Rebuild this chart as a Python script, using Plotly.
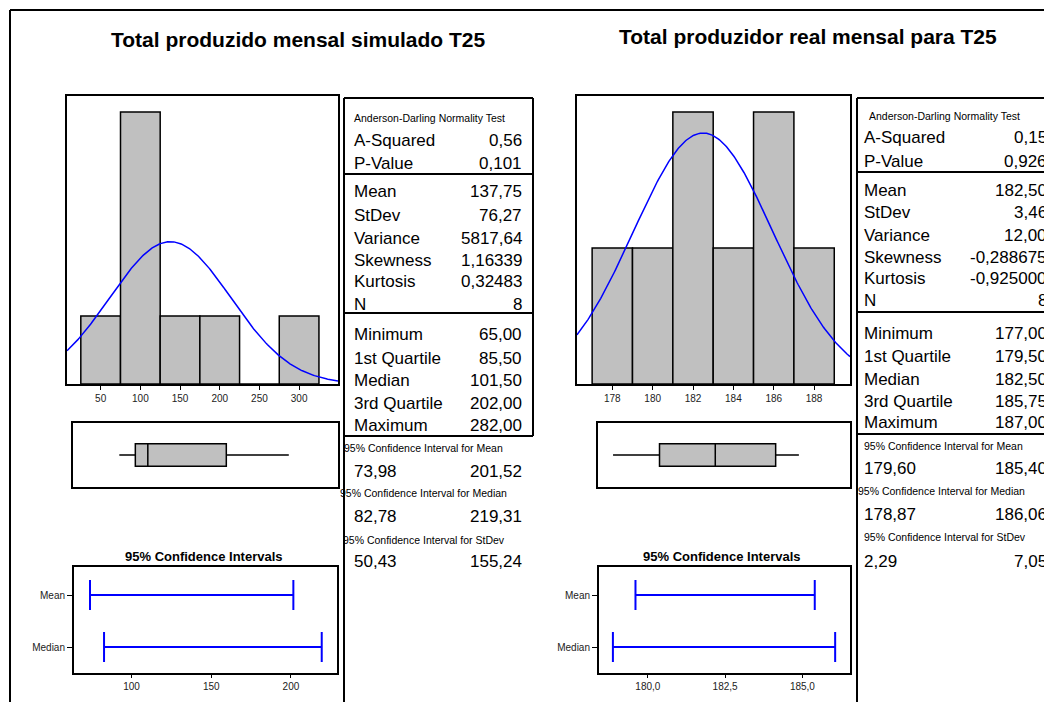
import numpy as np
import plotly.graph_objects as go

W, H = 1044, 702

# ---------------- data: simulated (left) ----------------
sim_title = "Total produzido mensal simulado T25"
sim_bin_centers = [50, 100, 150, 200, 250, 300]
sim_counts = [1, 4, 1, 1, 0, 1]
sim_bin_width = 50
sim_mean = 137.75
sim_sd = 76.27
sim_n = 8
sim_five = [65.00, 85.50, 101.50, 202.00, 282.00]  # min, q1, median, q3, max
sim_ci_mean = [73.98, 201.52]
sim_ci_median = [82.78, 219.31]
sim_ci_stdev = [50.43, 155.24]
sim_hist_ticks = [50, 100, 150, 200, 250, 300]
sim_ci_ticks = [100, 150, 200]
sim_ci_ticktext = ["100", "150", "200"]
sim_ad_labels = ["A-Squared", "P-Value"]
sim_ad_values = ["0,56", "0,101"]
sim_mom_labels = ["Mean", "StDev", "Variance", "Skewness", "Kurtosis", "N"]
sim_mom_values = ["137,75", "76,27", "5817,64", "1,16339", "0,32483", "8"]
sim_q_labels = ["Minimum", "1st Quartile", "Median", "3rd Quartile", "Maximum"]
sim_q_values = ["65,00", "85,50", "101,50", "202,00", "282,00"]
sim_ci_texts = [["73,98", "201,52"], ["82,78", "219,31"], ["50,43", "155,24"]]

# ---------------- data: real (right) ----------------
real_title = "Total produzidor real mensal para T25"
real_bin_centers = [178, 180, 182, 184, 186, 188]
real_counts = [1, 1, 2, 1, 2, 1]
real_bin_width = 2
real_mean = 182.50
real_sd = 3.46
real_n = 8
real_five = [177.00, 179.50, 182.50, 185.75, 187.00]
real_ci_mean = [179.60, 185.40]
real_ci_median = [178.87, 186.06]
real_ci_stdev = [2.29, 7.05]
real_hist_ticks = [178, 180, 182, 184, 186, 188]
real_ci_ticks = [180.0, 182.5, 185.0]
real_ci_ticktext = ["180,0", "182,5", "185,0"]
real_ad_labels = ["A-Squared", "P-Value"]
real_ad_values = ["0,15", "0,926"]
real_mom_labels = ["Mean", "StDev", "Variance", "Skewness", "Kurtosis", "N"]
real_mom_values = ["182,50", "3,46", "12,00", "-0,288675", "-0,925000", "8"]
real_q_labels = ["Minimum", "1st Quartile", "Median", "3rd Quartile", "Maximum"]
real_q_values = ["177,00", "179,50", "182,50", "185,75", "187,00"]
real_ci_texts = [["179,60", "185,40"], ["178,87", "186,06"], ["2,29", "7,05"]]

ci_headers_mean = "95% Confidence Interval for Mean"
ci_headers_median = "95% Confidence Interval for Median"
ci_headers_stdev = "95% Confidence Interval for StDev"
ad_header = "Anderson-Darling Normality Test"

FONT = "Liberation Sans, Arial, sans-serif"
GRAY = "#c0c0c0"


def fx(px):
    return px / W


def fy(py):
    return 1 - py / H


fig = go.Figure()

panels = [
    dict(
        hist_box=(67, 338, 96, 384), hist_xr=[7.6, 349], hist_yr=[0, 4.235],
        box_box=(73, 338, 423, 487), box_xr=[5.7, 345],
        ci_box=(74, 336.7, 567, 673), ci_xr=[63.94, 228.7],
        centers=sim_bin_centers, counts=sim_counts, bw=sim_bin_width,
        mean=sim_mean, sd=sim_sd, n=sim_n, five=sim_five,
        ci_mean=sim_ci_mean, ci_median=sim_ci_median,
        hticks=sim_hist_ticks, cticks=sim_ci_ticks, cticktext=sim_ci_ticktext,
    ),
    dict(
        hist_box=(577, 850, 96, 384), hist_xr=[176.25, 189.78], hist_yr=[0, 2.117],
        box_box=(598, 850, 423, 487), box_xr=[176.19, 189.75],
        ci_box=(599, 850, 567, 673), ci_xr=[178.42, 186.54],
        centers=real_bin_centers, counts=real_counts, bw=real_bin_width,
        mean=real_mean, sd=real_sd, n=real_n, five=real_five,
        ci_mean=real_ci_mean, ci_median=real_ci_median,
        hticks=real_hist_ticks, cticks=real_ci_ticks, cticktext=real_ci_ticktext,
    ),
]

axis_common = dict(showgrid=False, zeroline=False, showline=True, mirror=True,
                   linecolor="black", linewidth=2)
tickfont = dict(family=FONT, size=10, color="#222")
layout_axes = {}

for i, p in enumerate(panels):
    base = i * 3
    ids = [base + 1, base + 2, base + 3]
    names = ["" if k == 1 else str(k) for k in ids]

    # histogram
    x0, x1, y0, y1 = p["hist_box"]
    xa, ya = "x" + names[0], "y" + names[0]
    fig.add_trace(go.Bar(x=p["centers"], y=p["counts"], width=p["bw"],
                         marker=dict(color=GRAY, line=dict(color="black", width=1.5)),
                         xaxis=xa, yaxis=ya, hoverinfo="skip"))
    xs = np.linspace(p["hist_xr"][0], p["hist_xr"][1], 300)
    dens = p["n"] * p["bw"] * np.exp(-0.5 * ((xs - p["mean"]) / p["sd"]) ** 2) / (p["sd"] * np.sqrt(2 * np.pi))
    fig.add_trace(go.Scatter(x=xs, y=dens, mode="lines", line=dict(color="#0000ff", width=1.5),
                             xaxis=xa, yaxis=ya, hoverinfo="skip"))
    layout_axes["xaxis" + names[0]] = dict(axis_common, domain=[fx(x0), fx(x1)], range=p["hist_xr"],
                                           anchor=ya, tickvals=p["hticks"], ticks="outside",
                                           ticklen=4, tickcolor="black", tickfont=tickfont)
    layout_axes["yaxis" + names[0]] = dict(axis_common, domain=[fy(y1), fy(y0)], range=p["hist_yr"],
                                           anchor=xa, showticklabels=False, ticks="")

    # boxplot
    x0, x1, y0, y1 = p["box_box"]
    xa, ya = "x" + names[1], "y" + names[1]
    mn, q1, md, q3, mx = p["five"]
    fig.add_trace(go.Box(y=[0], q1=[q1], median=[md], q3=[q3], lowerfence=[mn], upperfence=[mx],
                         orientation="h", width=0.7, whiskerwidth=0, boxpoints=False,
                         fillcolor=GRAY, line=dict(color="black", width=1.5),
                         xaxis=xa, yaxis=ya, hoverinfo="skip"))
    layout_axes["xaxis" + names[1]] = dict(axis_common, domain=[fx(x0), fx(x1)], range=p["box_xr"],
                                           anchor=ya, showticklabels=False, ticks="")
    layout_axes["yaxis" + names[1]] = dict(axis_common, domain=[fy(y1), fy(y0)], range=[-1, 1],
                                           anchor=xa, showticklabels=False, ticks="")

    # confidence intervals
    x0, x1, y0, y1 = p["ci_box"]
    xa, ya = "x" + names[2], "y" + names[2]
    los = [p["ci_mean"][0], p["ci_median"][0]]
    his = [p["ci_mean"][1], p["ci_median"][1]]
    mids = [(a + b) / 2 for a, b in zip(los, his)]
    halfs = [(b - a) / 2 for a, b in zip(los, his)]
    fig.add_trace(go.Scatter(x=mids, y=[1, 0], mode="markers",
                             marker=dict(size=1, opacity=0),
                             error_x=dict(type="data", array=halfs, symmetric=True,
                                          color="#0000ff", thickness=2, width=15),
                             xaxis=xa, yaxis=ya, hoverinfo="skip"))
    layout_axes["xaxis" + names[2]] = dict(axis_common, domain=[fx(x0), fx(x1)], range=p["ci_xr"],
                                           anchor=ya, tickvals=p["cticks"], ticktext=p["cticktext"],
                                           ticks="outside", ticklen=3, tickcolor="black",
                                           tickfont=tickfont)
    layout_axes["yaxis" + names[2]] = dict(axis_common, domain=[fy(y1), fy(y0)], range=[-0.5, 1.54],
                                           anchor=xa, tickvals=[1, 0], ticktext=["Mean", "Median"],
                                           ticks="outside", ticklen=5, tickcolor="black",
                                           tickfont=tickfont)

shapes = []


def hline(x0, x1, y, w=2):
    shapes.append(dict(type="line", xref="paper", yref="paper", x0=fx(x0), x1=fx(x1),
                       y0=fy(y), y1=fy(y), line=dict(color="black", width=w)))


def vline(x, y0, y1, w=2):
    shapes.append(dict(type="line", xref="paper", yref="paper", x0=fx(x), x1=fx(x),
                       y0=fy(y0), y1=fy(y1), line=dict(color="black", width=w)))


# outer frame
hline(10, 1044, 10)
vline(10, 10, 702)
# left table
vline(344, 98, 702)
vline(533, 98, 436)
hline(344, 533, 98)
hline(344, 533, 174)
hline(344, 533, 313)
hline(344, 533, 436)
# right table
vline(857, 98, 702)
hline(857, 1044, 98)
hline(857, 1044, 172)
hline(857, 1044, 312)
hline(857, 1044, 434)

annotations = []


def text(x, y, s, size=17, anchor="left", bold=False, color="black"):
    annotations.append(dict(x=fx(x), y=fy(y), xref="paper", yref="paper",
                            text=("<b>%s</b>" % s) if bold else s, showarrow=False,
                            xanchor=anchor, yanchor="middle",
                            font=dict(family=FONT, size=size, color=color)))


# titles
text(298, 40, sim_title, size=21, anchor="center", bold=True)
text(808, 37, real_title, size=21, anchor="center", bold=True)
text(204, 556.7, "95% Confidence Intervals", size=13, anchor="center", bold=True)
text(722, 556.7, "95% Confidence Intervals", size=13, anchor="center", bold=True)

# left table
text(351.5, 117.7, ad_header, size=10.5)
for lab, val, y in zip(sim_ad_labels, sim_ad_values, [140, 163]):
    text(352, y, lab); text(524, y, val, anchor="right")
for lab, val, y in zip(sim_mom_labels, sim_mom_values, [191.7, 215, 238.3, 260, 281.7, 304.3]):
    text(352, y, lab); text(524, y, val, anchor="right")
for lab, val, y in zip(sim_q_labels, sim_q_values, [334.5, 358.3, 381, 403.3, 425]):
    text(352, y, lab); text(524, y, val, anchor="right")
text(342, 448.3, ci_headers_mean, size=10.5)
text(338, 493.3, ci_headers_median, size=10.5)
text(341, 540, ci_headers_stdev, size=10.5)
for (a, b), y in zip(sim_ci_texts, [471.7, 516.7, 561.7]):
    text(352, y, a); text(524, y, b, anchor="right")

# right table (values run off the right edge, as in the original)
text(867, 115.7, ad_header, size=10.5)
for lab, val, y in zip(real_ad_labels, real_ad_values, [137.7, 161]):
    text(862, y, lab); text(1049, y, val, anchor="right")
for lab, val, y in zip(real_mom_labels, real_mom_values, [190, 212.3, 235, 257.3, 279, 301]):
    text(862, y, lab); text(1049, y, val, anchor="right")
for lab, val, y in zip(real_q_labels, real_q_values, [333.3, 356.7, 379, 401, 422.7]):
    text(862, y, lab); text(1049, y, val, anchor="right")
text(862, 446, ci_headers_mean, size=10.5)
text(856, 491, ci_headers_median, size=10.5)
text(862, 536.7, ci_headers_stdev, size=10.5)
for (a, b), y in zip(real_ci_texts, [468.3, 514.3, 561]):
    text(862, y, a); text(1049, y, b, anchor="right")

fig.update_layout(
    width=W, height=H, autosize=False,
    margin=dict(l=0, r=0, t=0, b=0),
    paper_bgcolor="white", plot_bgcolor="white",
    showlegend=False, shapes=shapes, annotations=annotations,
    font=dict(family=FONT, color="black"),
    **layout_axes,
)

fig.write_html("out.html", config={"displayModeBar": False},
               post_script="document.body.style.margin='0';")
